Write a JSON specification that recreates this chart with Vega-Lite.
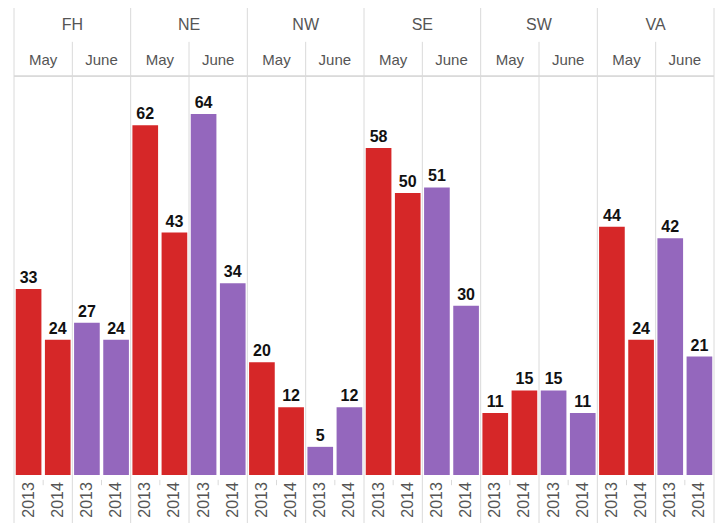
{
  "$schema": "https://vega.github.io/schema/vega-lite/v6.json",
  "width": 700,
  "height": 515,
  "padding": {"left": 14, "top": 8, "right": 9, "bottom": 0},
  "autosize": {"type": "none"},
  "config": {"view": {"stroke": null}, "font": "Liberation Sans"},
  "datasets": {
    "sales": [
      {"region": "FH", "month": "May", "year": "2013", "cell": "May 2013", "value": 33},
      {"region": "FH", "month": "May", "year": "2014", "cell": "May 2014", "value": 24},
      {"region": "FH", "month": "June", "year": "2013", "cell": "June 2013", "value": 27},
      {"region": "FH", "month": "June", "year": "2014", "cell": "June 2014", "value": 24},
      {"region": "NE", "month": "May", "year": "2013", "cell": "May 2013", "value": 62},
      {"region": "NE", "month": "May", "year": "2014", "cell": "May 2014", "value": 43},
      {"region": "NE", "month": "June", "year": "2013", "cell": "June 2013", "value": 64},
      {"region": "NE", "month": "June", "year": "2014", "cell": "June 2014", "value": 34},
      {"region": "NW", "month": "May", "year": "2013", "cell": "May 2013", "value": 20},
      {"region": "NW", "month": "May", "year": "2014", "cell": "May 2014", "value": 12},
      {"region": "NW", "month": "June", "year": "2013", "cell": "June 2013", "value": 5},
      {"region": "NW", "month": "June", "year": "2014", "cell": "June 2014", "value": 12},
      {"region": "SE", "month": "May", "year": "2013", "cell": "May 2013", "value": 58},
      {"region": "SE", "month": "May", "year": "2014", "cell": "May 2014", "value": 50},
      {"region": "SE", "month": "June", "year": "2013", "cell": "June 2013", "value": 51},
      {"region": "SE", "month": "June", "year": "2014", "cell": "June 2014", "value": 30},
      {"region": "SW", "month": "May", "year": "2013", "cell": "May 2013", "value": 11},
      {"region": "SW", "month": "May", "year": "2014", "cell": "May 2014", "value": 15},
      {"region": "SW", "month": "June", "year": "2013", "cell": "June 2013", "value": 15},
      {"region": "SW", "month": "June", "year": "2014", "cell": "June 2014", "value": 11},
      {"region": "VA", "month": "May", "year": "2013", "cell": "May 2013", "value": 44},
      {"region": "VA", "month": "May", "year": "2014", "cell": "May 2014", "value": 24},
      {"region": "VA", "month": "June", "year": "2013", "cell": "June 2013", "value": 42},
      {"region": "VA", "month": "June", "year": "2014", "cell": "June 2014", "value": 21}
    ],
    "regions": [
      {"region": "FH"}, {"region": "NE"}, {"region": "NW"},
      {"region": "SE"}, {"region": "SW"}, {"region": "VA"}
    ]
  },
  "layer": [
    {
      "data": {"name": "regions"},
      "mark": {"type": "rule", "color": "#dadada", "strokeWidth": 1},
      "encoding": {
        "x": {"field": "region", "type": "nominal", "bandPosition": 0,
              "scale": {"type": "band", "domain": ["FH", "NE", "NW", "SE", "SW", "VA"], "paddingInner": 0, "paddingOuter": 0},
              "axis": null},
        "y": {"datum": 82.8, "type": "quantitative", "scale": {"domain": [-8.5, 82.8], "nice": false, "zero": false}, "axis": null},
        "y2": {"datum": -8.5}
      }
    },
    {
      "data": {"name": "regions"},
      "transform": [{"filter": "datum.region == 'VA'"}],
      "mark": {"type": "rule", "color": "#dadada", "strokeWidth": 1},
      "encoding": {
        "x": {"field": "region", "type": "nominal", "bandPosition": 1},
        "y": {"datum": 82.8, "type": "quantitative"},
        "y2": {"datum": -8.5}
      }
    },
    {
      "data": {"name": "regions"},
      "mark": {"type": "rule", "color": "#dadada", "strokeWidth": 1},
      "encoding": {
        "x": {"field": "region", "type": "nominal", "bandPosition": 0.5},
        "y": {"datum": 76.8, "type": "quantitative"},
        "y2": {"datum": -8.5}
      }
    },
    {
      "data": {"name": "regions"},
      "mark": {"type": "rule", "color": "#dadada", "strokeWidth": 1},
      "encoding": {
        "x": {"field": "region", "type": "nominal", "bandPosition": 0.25},
        "y": {"datum": -0.85, "type": "quantitative"},
        "y2": {"datum": -1.8}
      }
    },
    {
      "data": {"name": "regions"},
      "mark": {"type": "rule", "color": "#dadada", "strokeWidth": 1},
      "encoding": {
        "x": {"field": "region", "type": "nominal", "bandPosition": 0.75},
        "y": {"datum": -0.85, "type": "quantitative"},
        "y2": {"datum": -1.8}
      }
    },
    {
      "data": {"name": "regions"},
      "mark": {"type": "rule", "color": "#dadada", "strokeWidth": 1},
      "encoding": {
        "y": {"datum": 70.7, "type": "quantitative"}
      }
    },
    {
      "data": {"name": "sales"},
      "mark": {"type": "bar"},
      "encoding": {
        "x": {"field": "region", "type": "nominal"},
        "xOffset": {"field": "cell", "type": "nominal",
                    "scale": {"domain": ["May 2013", "May 2014", "June 2013", "June 2014"], "paddingInner": 0.12, "paddingOuter": 0.06}},
        "y": {"field": "value", "type": "quantitative", "stack": null},
        "color": {"field": "month", "type": "nominal",
                  "scale": {"domain": ["May", "June"], "range": ["#d62728", "#9467bd"]}, "legend": null}
      }
    },
    {
      "data": {"name": "sales"},
      "mark": {"type": "text", "baseline": "bottom", "dy": -3, "fontSize": 16, "fontWeight": "bold", "color": "#111"},
      "encoding": {
        "x": {"field": "region", "type": "nominal"},
        "xOffset": {"field": "cell", "type": "nominal"},
        "y": {"field": "value", "type": "quantitative", "stack": null},
        "text": {"field": "value", "type": "quantitative"}
      }
    },
    {
      "data": {"name": "sales"},
      "mark": {"type": "text", "angle": 270, "align": "right", "baseline": "middle", "fontSize": 16, "color": "#555"},
      "encoding": {
        "x": {"field": "region", "type": "nominal"},
        "xOffset": {"field": "cell", "type": "nominal"},
        "y": {"datum": -1.25, "type": "quantitative"},
        "text": {"field": "year", "type": "nominal"}
      }
    },
    {
      "data": {"name": "regions"},
      "mark": {"type": "text", "baseline": "middle", "fontSize": 16, "color": "#555"},
      "encoding": {
        "x": {"field": "region", "type": "nominal"},
        "y": {"datum": 79.8, "type": "quantitative"},
        "text": {"field": "region", "type": "nominal"}
      }
    },
    {
      "data": {"name": "regions"},
      "mark": {"type": "text", "baseline": "middle", "fontSize": 15, "color": "#555", "text": "May"},
      "encoding": {
        "x": {"field": "region", "type": "nominal", "bandPosition": 0.25},
        "y": {"datum": 73.6, "type": "quantitative"}
      }
    },
    {
      "data": {"name": "regions"},
      "mark": {"type": "text", "baseline": "middle", "fontSize": 15, "color": "#555", "text": "June"},
      "encoding": {
        "x": {"field": "region", "type": "nominal", "bandPosition": 0.75},
        "y": {"datum": 73.6, "type": "quantitative"}
      }
    }
  ]
}
